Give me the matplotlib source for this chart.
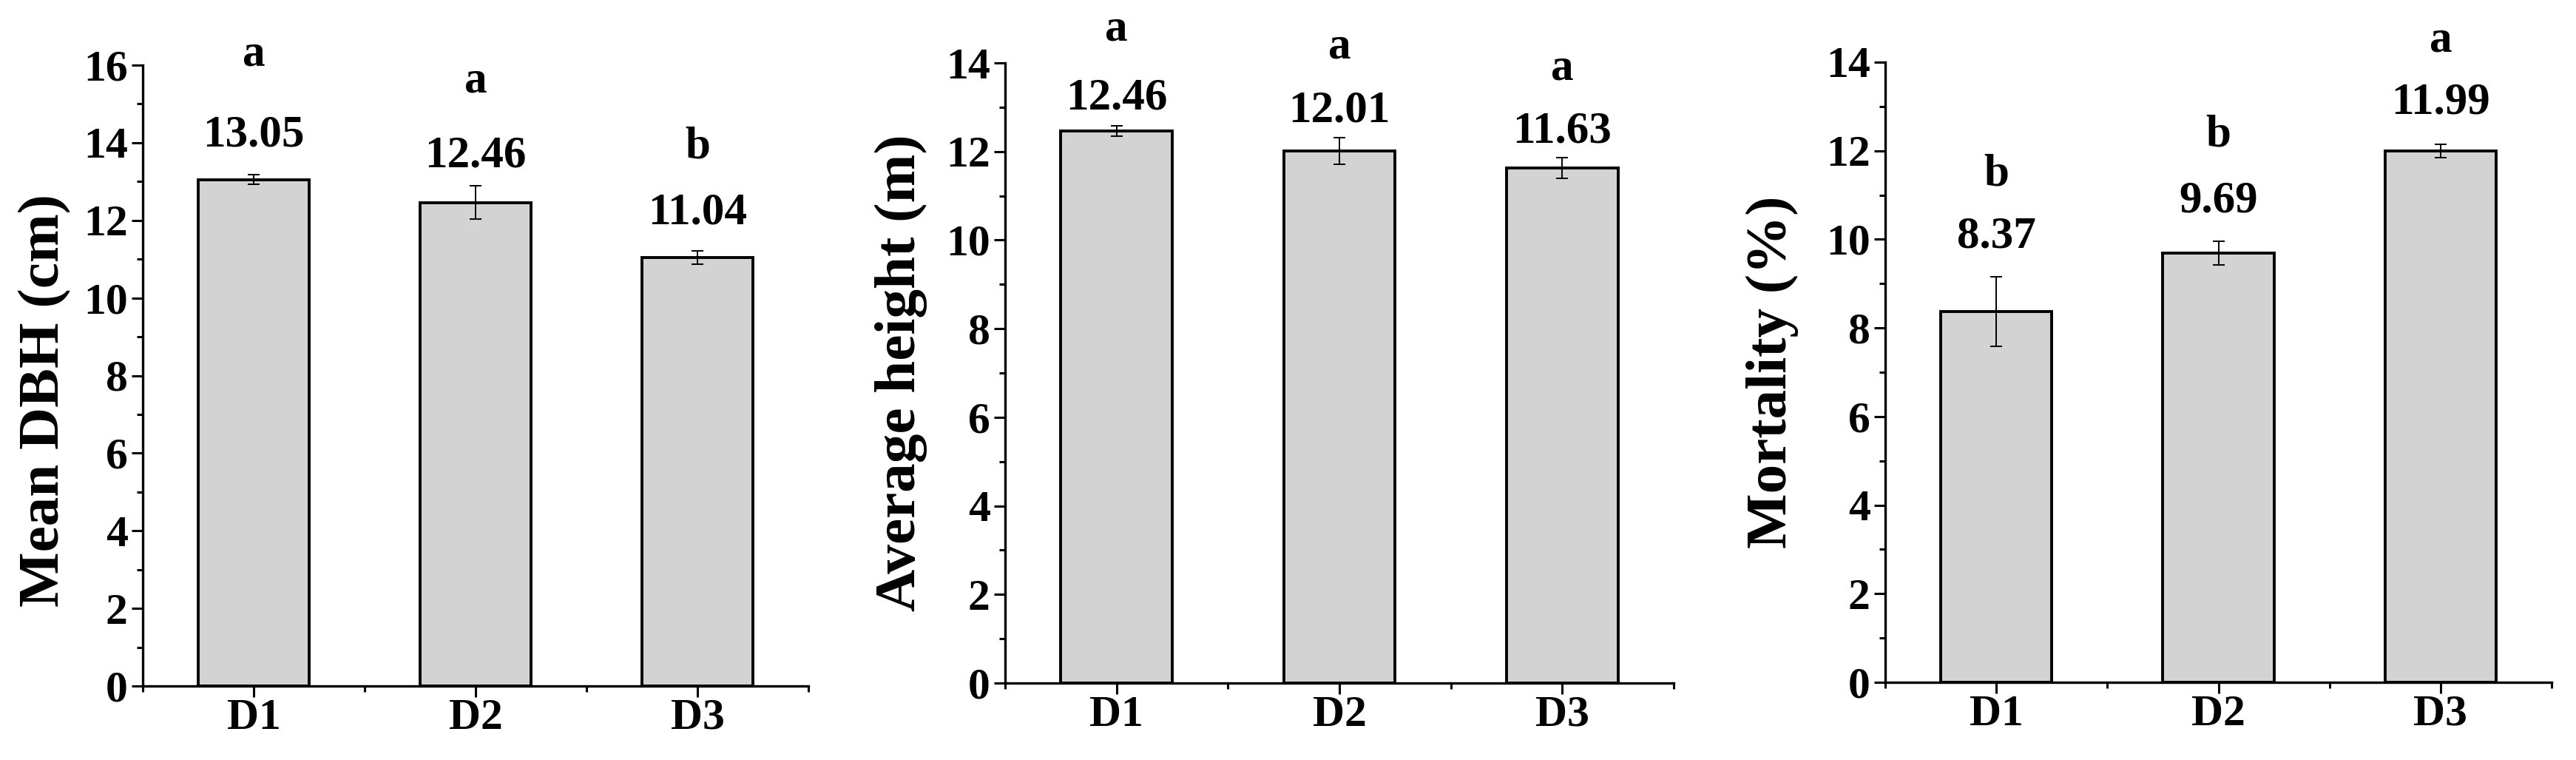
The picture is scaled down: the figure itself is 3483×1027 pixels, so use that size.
import matplotlib.pyplot as plt
from matplotlib.ticker import MultipleLocator, FixedLocator
import numpy as np

plt.rcParams['font.family'] = ['Liberation Serif', 'DejaVu Serif']
plt.rcParams['font.weight'] = 'bold'

groups = ['D1', 'D2', 'D3']

dbh = [13.05, 12.46, 11.04]
dbh_err = [0.12, 0.43, 0.17]
dbh_sig = ['a', 'a', 'b']

height = [12.46, 12.01, 11.63]
height_err = [0.12, 0.30, 0.23]
height_sig = ['a', 'a', 'a']

mort = [8.37, 9.69, 11.99]
mort_err = [0.79, 0.26, 0.15]
mort_sig = ['b', 'b', 'a']

W, H = 3483, 1027
fig = plt.figure(figsize=(W / 100, H / 100), dpi=100)

# box: left, bottom (px from top), width, height in pixels
# voff / loff: pixel gaps (error-bar top -> value, value -> letter)
panels = [
    dict(box=(193, 927, 900, 839), vals=dbh, err=dbh_err, sig=dbh_sig,
         ymax=16, ylabel='Mean DBH (cm)', lab=(-0.107, 0.46),
         voff=[39, 26, 37], loff=[109, 101, 89]),
    dict(box=(1359, 923, 904, 838), vals=height, err=height_err, sig=height_sig,
         ymax=14, ylabel='Average height (m)', lab=(-0.116, 0.5),
         voff=[22, 22, 21], loff=[93, 86, 85]),
    dict(box=(2549, 922, 901, 838), vals=mort, err=mort_err, sig=mort_sig,
         ymax=14, ylabel='Mortality (%)', lab=(-0.130, 0.5),
         voff=[39, 40, 42], loff=[84, 89, 84]),
]

x = np.arange(1, len(groups) + 1)
px = 0.72  # points per pixel at 100 dpi

for p in panels:
    l, b, w, h = p['box']
    ax = fig.add_axes([l / W, (H - b) / H, w / W, h / H])
    ax.bar(x, p['vals'], width=0.5, color='#d3d3d3', edgecolor='black',
           linewidth=2.8, zorder=2)
    ax.errorbar(x, p['vals'], yerr=p['err'], fmt='none', ecolor='black',
                elinewidth=1.4, capsize=6, capthick=1.4, zorder=3)
    for i, (xi, v, e, s) in enumerate(zip(x, p['vals'], p['err'], p['sig'])):
        dv = p['voff'][i] * px
        dl = dv + p['loff'][i] * px
        ax.annotate(f'{v:.2f}', (xi, v + e), xytext=(0, dv),
                    textcoords='offset points', ha='center', va='baseline',
                    fontsize=44, fontweight='bold', annotation_clip=False)
        ax.annotate(s, (xi, v + e), xytext=(0, dl),
                    textcoords='offset points', ha='center', va='baseline',
                    fontsize=44, fontweight='bold', annotation_clip=False)

    ax.set_xlim(0.5, 3.5)
    ax.set_ylim(0, p['ymax'])
    ax.set_xticks(x)
    ax.set_xticklabels(groups)
    ax.xaxis.set_minor_locator(FixedLocator([0.5, 1.5, 2.5, 3.5]))
    ax.yaxis.set_major_locator(MultipleLocator(2))
    ax.yaxis.set_minor_locator(MultipleLocator(1))
    ax.spines['top'].set_visible(False)
    ax.spines['right'].set_visible(False)
    for sp in ['left', 'bottom']:
        ax.spines[sp].set_linewidth(2.4)
    ax.tick_params(which='major', direction='out', length=11, width=2.2,
                   labelsize=43)
    ax.tick_params(which='minor', direction='out', length=6, width=2.2)
    ax.tick_params(axis='y', which='major', pad=3.5)
    ax.tick_params(axis='x', which='major', pad=1)
    ax.set_ylabel(p['ylabel'], fontsize=57, fontweight='bold')
    ax.yaxis.set_label_coords(*p['lab'])

fig.savefig('out.png', dpi=100)
